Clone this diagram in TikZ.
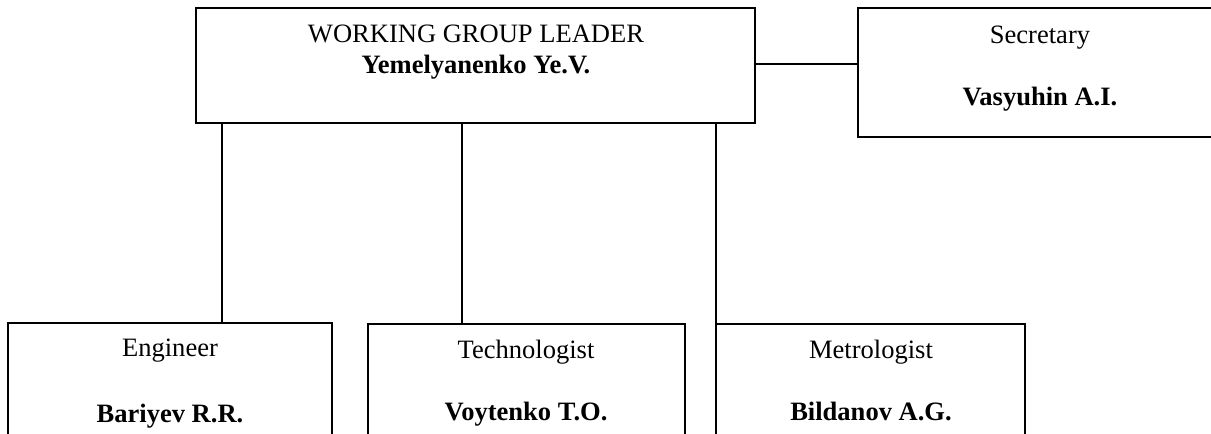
\documentclass[tikz,border=0pt]{standalone}
\usepackage{fontspec}
\setmainfont{Liberation Serif}
\usetikzlibrary{fit}
\begin{document}
\begin{tikzpicture}[x=0.75pt,y=-0.75pt,
  box/.style={draw=black,line width=1.4pt,inner sep=0pt},
  conn/.style={draw=black,line width=1.4pt},
  txt/.style={anchor=base,inner sep=0pt,font=\fontsize{19.9}{24}\selectfont},
  btxt/.style={txt,font=\fontsize{19.9}{24}\selectfont\bfseries}]
\useasboundingbox (0,0) rectangle (1211,433);
\clip (0,0) rectangle (1211,433);
% boxes
\node[box,fit={(196,8) (755,123)}] (lead) {};
\node[box,fit={(858,8) (1224,137)}] (sec) {};
\node[box,fit={(8,323) (332,460)}] (eng) {};
\node[box,fit={(368,324) (685,460)}] (tech) {};
\node[box,fit={(716,324) (1025,460)}] (metr) {};
% connector anchor coordinates
\coordinate (c1) at (222,123);
\coordinate (c2) at (462,123);
\coordinate (c3) at (716,123);
\coordinate (cs) at (755,64);
% connectors
\draw[conn] (cs) -- (cs -| sec.west);
\draw[conn] (c1) -- (c1 |- eng.north);
\draw[conn] (c2) -- (c2 |- tech.north);
\draw[conn] (c3) -- (c3 |- metr.north);
% texts
\node[txt] (l1) at (476,42) {WORKING GROUP LEADER};
\node[btxt] (l2) at (476,73) {Yemelyanenko Ye.V.};
\node[txt] (s1) at (1040,43) {Secretary};
\node[btxt] (s2) at (1040,105) {Vasyuhin A.I.};
\node[txt] (e1) at (170,356) {Engineer};
\node[btxt] (e2) at (170,422) {Bariyev R.R.};
\node[txt] (t1) at (526,358) {Technologist};
\node[btxt] (t2) at (526,420) {Voytenko T.O.};
\node[txt] (m1) at (871,358) {Metrologist};
\node[btxt] (m2) at (871,420) {Bildanov A.G.};
\end{tikzpicture}
\end{document}
